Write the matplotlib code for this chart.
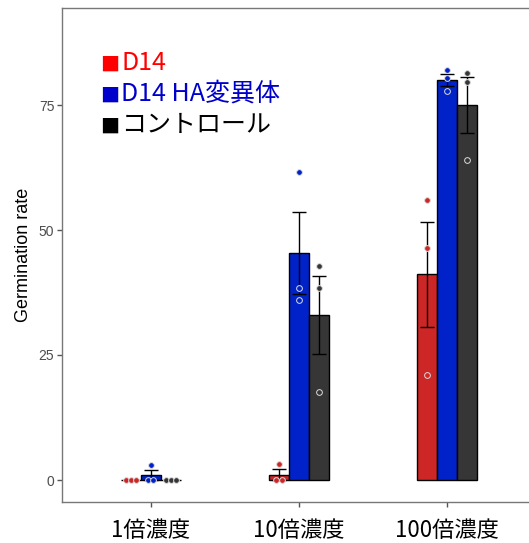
import numpy as np
import matplotlib
matplotlib.use("Agg")
import matplotlib.pyplot as plt

# データ
groups = ['1倍濃度', '10倍濃度', '100倍濃度']
series = ['D14', 'D14 HA変異体', 'コントロール']
d14 = [[0, 0, 0], [3.3, 0, 0], [56, 46.4, 21]]
d14_ha = [[3, 0, 0], [61.7, 38.4, 36], [82, 80.4, 77.8]]
control = [[0, 0, 0], [42.8, 38.4, 17.6], [81.4, 79.6, 64]]
yticks = [0, 25, 50, 75]

bar_colors = ['#cd2626', '#0022c8', '#363636']
legend_colors = ['#ff0000', '#0000cc', '#000000']

fig = plt.figure(figsize=(5.29, 5.43), dpi=100)
W, H = 529, 543
ax = fig.add_axes([62 / W, (H - 502) / H, (536 - 62) / W, (502 - 8) / H])

x = np.arange(1, len(groups) + 1)
bw = 0.135
dot_step = 0.034

for s, (data, col) in enumerate(zip([d14, d14_ha, control], bar_colors)):
    off = (s - 1) * bw
    for g, vals in enumerate(data):
        vals = np.array(vals, dtype=float)
        m = vals.mean()
        se = vals.std(ddof=1) / np.sqrt(len(vals))
        xc = x[g] + off
        ax.bar(xc, m, width=bw, color=col, edgecolor='black', linewidth=1.0, zorder=2)
        # 同じ値の点は横に並べる
        uniq, counts = np.unique(vals, return_counts=True)
        for u, c in zip(uniq, counts):
            xs = xc + (np.arange(c) - (c - 1) / 2) * dot_step
            ax.scatter(xs, [u] * c, s=17, facecolor=col, edgecolor='#dcdcdc',
                       linewidth=0.7, zorder=4)
        ax.errorbar(xc, m, yerr=se, fmt='none', ecolor='black', elinewidth=1.0,
                    capsize=5, capthick=1.0, zorder=3)

ax.set_xlim(0.4, 3.6)
ax.set_ylim(-4.4, 94.4)
ax.set_xticks(x)
ax.set_xticklabels(groups, fontsize=16, family=['Noto Sans CJK JP', 'DejaVu Sans'])
ax.set_yticks(yticks)
ax.set_yticklabels([str(v) for v in yticks], fontsize=10, color='#4d4d4d',
                   family='Liberation Sans')
ax.set_ylabel('Germination rate', fontsize=13, family='Liberation Sans', labelpad=5)
ax.tick_params(axis='both', colors='#555555', length=3.5, width=1.0)
ax.tick_params(axis='x', labelcolor='black', pad=9)
ax.tick_params(axis='y', labelcolor='#4d4d4d', pad=2)
for sp in ax.spines.values():
    sp.set_color('#777777')
    sp.set_linewidth(1.0)

# 凡例
for i, (name, col) in enumerate(zip(series, legend_colors)):
    yc = 1 - (63 + 31 * i) / H
    fig.text(100 / W, yc, '■', color=col, fontsize=14.5, va='center', ha='left',
             family=['DejaVu Sans'])
    fig.text(121 / W, yc, name, color=col, fontsize=18, va='center', ha='left',
             family=['Noto Sans CJK JP', 'DejaVu Sans'])

fig.savefig('out.png', dpi=100)
